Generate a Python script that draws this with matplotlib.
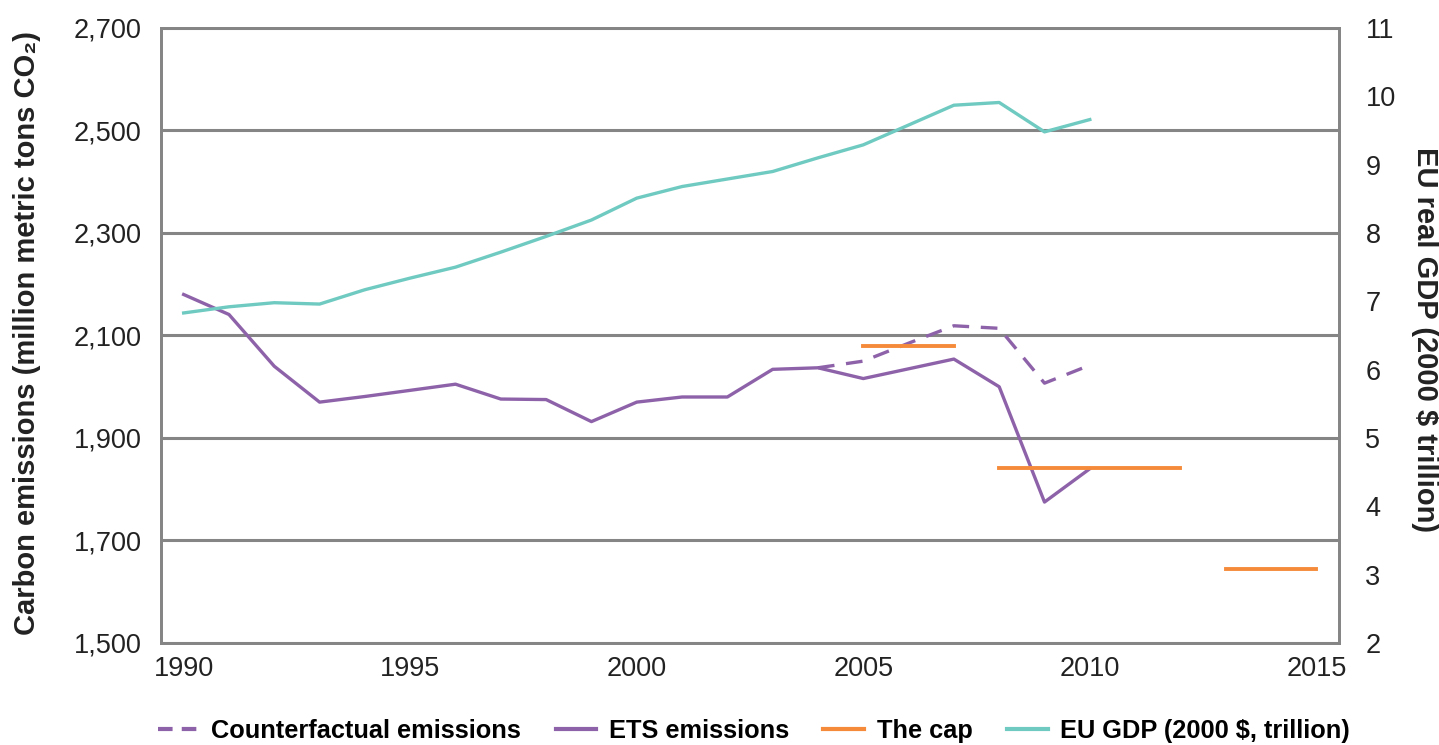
import numpy as np
import matplotlib
matplotlib.use('Agg')
import matplotlib.pyplot as plt
from matplotlib.lines import Line2D

plt.rcParams['font.family'] = ['Liberation Sans', 'DejaVu Sans']

years = np.arange(1990, 2011)
ets = [2180, 2141, 2040, 1970, 1981, 1993, 2005, 1976, 1975, 1932,
       1970, 1980, 1980, 2034, 2037, 2016, 2035, 2054, 2000, 1775, 1840]
cf_years = np.arange(2004, 2011)
counterfactual = [2037, 2050, 2085, 2119, 2114, 2007, 2042]
gdp = [6.83, 6.92, 6.98, 6.96, 7.17, 7.34, 7.50, 7.72, 7.95, 8.19,
       8.51, 8.68, 8.79, 8.90, 9.10, 9.29, 9.58, 9.87, 9.91, 9.48, 9.66]
# cap phases: (start year, end year, level)
cap_start = [2005, 2008, 2013]
cap_end = [2007, 2012, 2015]
cap_level = [2080, 1842, 1645]

purple = '#8e62a9'
orange = '#f58b3a'
teal = '#6fcac1'
grey = '#858585'
txt = '#222222'

fig = plt.figure(figsize=(14.39, 7.45), dpi=100)
ax = fig.add_axes([161/1439, 1 - 643/745, (1339-161)/1439, (643-28)/745])
ax2 = ax.twinx()

ax.plot(cf_years, counterfactual, color=purple, lw=2.4, ls=(0, (5, 3.5)), zorder=3)
ax.plot(years, ets, color=purple, lw=2.4, zorder=4)
for s, e, v in zip(cap_start, cap_end, cap_level):
    ax.plot([s, e], [v, v], color=orange, lw=2.8, zorder=5)
ax2.plot(years, gdp, color=teal, lw=2.4)

ax.set_xlim(1989.5, 2015.5)
ax.set_ylim(1500, 2700)
ax2.set_ylim(2, 11)
ax.set_xticks(range(1990, 2016, 5))
ax.set_yticks(range(1500, 2701, 200))
ax.set_yticklabels([f'{v:,}' for v in range(1500, 2701, 200)])
ax2.set_yticks(range(2, 12))

ax.grid(axis='y', color=grey, lw=2.2)
ax.set_axisbelow(True)
for a in (ax, ax2):
    for sp in a.spines.values():
        sp.set_color(grey)
        sp.set_linewidth(2.0)
ax.tick_params(axis='both', length=0, labelsize=19.5, colors=txt)
ax.tick_params(axis='y', pad=14)
ax.tick_params(axis='x', pad=9)
ax2.tick_params(axis='y', length=0, labelsize=19.5, colors=txt, pad=19)

ax.set_ylabel('Carbon emissions (million metric tons CO₂)', fontsize=21,
              fontweight='bold', color=txt, va='center')
ax.yaxis.set_label_coords(-0.1138, 0.504)
ax2.set_ylabel('EU real GDP (2000 $ trillion)', fontsize=21, fontweight='bold',
               color=txt, rotation=270, va='center')
ax2.yaxis.set_label_coords(1.073, 0.493)

handles = [Line2D([], [], color=purple, lw=3, ls=(0, (3.5, 2.2))),
           Line2D([], [], color=purple, lw=3),
           Line2D([], [], color=orange, lw=3),
           Line2D([], [], color=teal, lw=3)]
labels = ['Counterfactual emissions', 'ETS emissions', 'The cap',
          'EU GDP (2000 $, trillion)']
fig.legend(handles, labels, loc='center', bbox_to_anchor=(754/1439, 1 - 731/745),
           ncol=4, frameon=False, handlelength=1.6, handletextpad=0.5,
           columnspacing=1.35, prop={'weight': 'bold', 'size': 18.3})

fig.savefig('out.png', dpi=100)
